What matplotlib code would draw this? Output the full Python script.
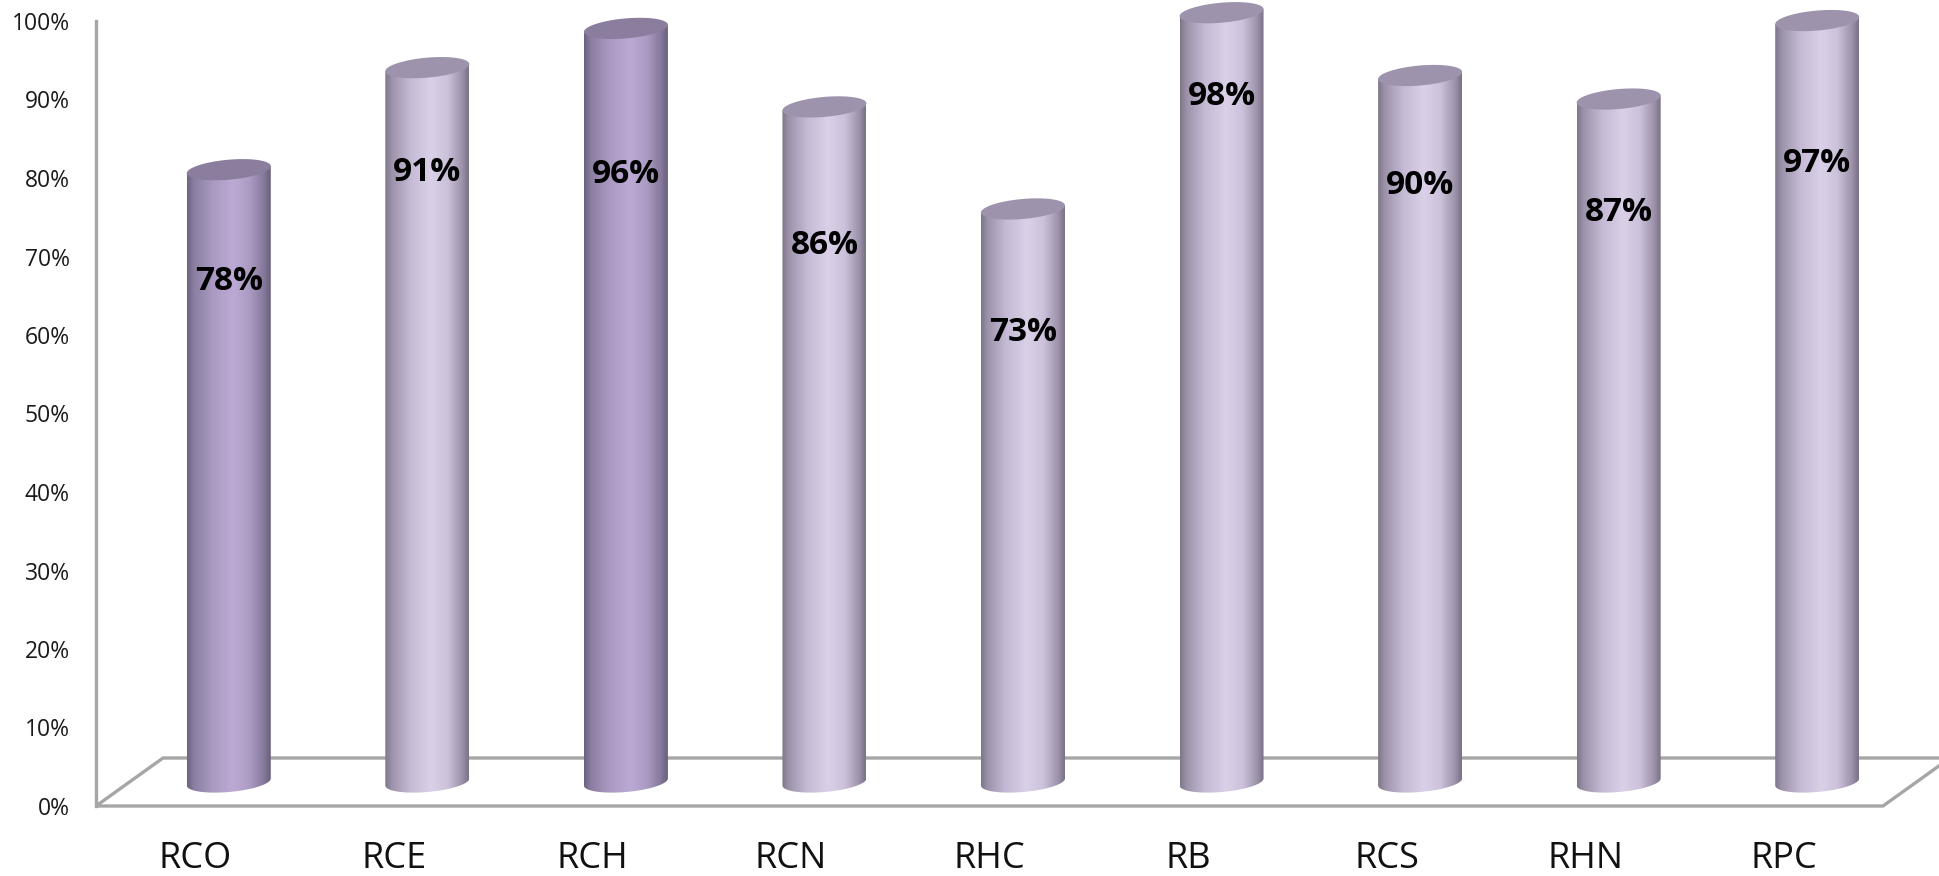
import numpy as np
import matplotlib
matplotlib.use('Agg')
import matplotlib.pyplot as plt
from matplotlib.path import Path
from matplotlib.patches import PathPatch, Polygon
from matplotlib.colors import LinearSegmentedColormap

# ---------------- data ----------------
categories = ['RCO', 'RCE', 'RCH', 'RCN', 'RHC', 'RB', 'RCS', 'RHN', 'RPC']
values = [0.78, 0.91, 0.96, 0.86, 0.73, 0.98, 0.90, 0.87, 0.97]
value_labels = ['78%', '91%', '96%', '86%', '73%', '98%', '90%', '87%', '97%']
label_y = [0.637, 0.777, 0.774, 0.684, 0.572, 0.873, 0.760, 0.725, 0.788]
shades = ['dark', 'light', 'dark', 'light', 'light', 'light', 'light', 'light', 'light']
yticks = [0.0, 0.1, 0.2, 0.3, 0.4, 0.5, 0.6, 0.7, 0.8, 0.9, 1.0]
ytick_labels = ['0%', '10%', '20%', '30%', '40%', '50%', '60%', '70%', '80%', '90%', '100%']

# ---------------- style ----------------
plt.rcParams['font.family'] = ['Open Sans', 'DejaVu Sans']
W, H = 1940, 876
fig = plt.figure(figsize=(W / 100, H / 100), dpi=100)
fig.patch.set_facecolor('white')

ax_left, ax_bottom, ax_w, ax_h = 96, 70, 1787, 785
depth_dx, depth_dy = 67, 48          # floor depth in px
ax_f = fig.add_axes([ax_left / W, ax_bottom / H, ax_w / W, ax_h / H])
ax_b = fig.add_axes([(ax_left + depth_dx / 2) / W, (ax_bottom + depth_dy / 2) / H, ax_w / W, ax_h / H])

n = len(categories)
for ax in (ax_f, ax_b):
    ax.set_xlim(-0.5, n - 0.5)
    ax.set_ylim(0, 1)
    ax.patch.set_alpha(0)

grid_col = '#a6a6a6'
for s in ('top', 'right', 'bottom'):
    ax_f.spines[s].set_visible(False)
ax_f.spines['left'].set_color(grid_col)
ax_f.spines['left'].set_linewidth(2.4)
ax_f.set_yticks(yticks)
ax_f.set_yticklabels(ytick_labels, fontsize=16.5, color='#1a1a1a')
ax_f.set_xticks(range(n))
ax_f.set_xticklabels(categories, fontsize=26, color='#111111')
ax_f.tick_params(axis='y', length=0, pad=19)
ax_f.tick_params(axis='x', length=0, pad=25)

# floor parallelogram
dxa, dya = depth_dx / ax_w, depth_dy / ax_h
floor = Polygon([(0, 0), (1, 0), (1 + dxa, dya), (dxa, dya)], closed=True,
                transform=ax_f.transAxes, facecolor='none', edgecolor=grid_col,
                linewidth=2.4, clip_on=False)
ax_f.add_patch(floor)

ax_b.axis('off')

profiles = {
    'light': [(0.0, '#7d7689'), (0.08, '#9c93aa'), (0.3, '#c5bad5'), (0.55, '#dad0e8'),
              (0.75, '#cbc1da'), (0.92, '#9c92aa'), (1.0, '#7a7187')],
    'dark': [(0.0, '#6c627e'), (0.08, '#8b7ea1'), (0.3, '#a999c1'), (0.55, '#bcaad4'),
             (0.75, '#ab9bc3'), (0.92, '#85789b'), (1.0, '#685e7a')],
}
top_cols = {'light': '#9d93ac', 'dark': '#8a7d9d'}

w = 0.423
eh = 0.0255
tilt = 0.009
t_bot = np.linspace(np.pi, 2 * np.pi, 60)
t_all = np.linspace(0, 2 * np.pi, 120)
for i, (v, sh) in enumerate(zip(values, shades)):
    x0, x1 = i - w / 2, i + w / 2
    bx = i + w / 2 * np.cos(t_bot)
    by = eh / 2 * np.sin(t_bot) + tilt / 2 * np.cos(t_bot)
    verts = [(x0, v - tilt / 2)] + list(zip(bx, by)) + [(x1, v + tilt / 2), (x0, v - tilt / 2)]
    codes = [Path.MOVETO] + [Path.LINETO] * (len(verts) - 2) + [Path.CLOSEPOLY]
    body = PathPatch(Path(verts, codes), facecolor='none', edgecolor='none',
                     transform=ax_b.transData, clip_on=False)
    ax_b.add_patch(body)
    cmap = LinearSegmentedColormap.from_list('c' + str(i), profiles[sh])
    grad = np.linspace(0, 1, 256).reshape(1, -1)
    im = ax_b.imshow(grad, cmap=cmap, extent=[x0, x1, -eh, v + eh], aspect='auto',
                     interpolation='bicubic', zorder=2)
    im.set_clip_box(fig.bbox)
    im.set_clip_path(body)
    tx = i + w / 2 * np.cos(t_all)
    ty = v + eh / 2 * np.sin(t_all) + tilt / 2 * np.cos(t_all)
    top = Polygon(np.column_stack([tx, ty]), closed=True, facecolor=top_cols[sh],
                  edgecolor='none', zorder=3, clip_on=False)
    ax_b.add_patch(top)
    ax_b.text(i, label_y[i], value_labels[i], ha='center', va='center', fontsize=24,
              fontweight='bold', color='black', zorder=4)

ax_b.set_xlim(-0.5, n - 0.5)
ax_b.set_ylim(0, 1)

fig.savefig('out.png', dpi=100, facecolor='white')
